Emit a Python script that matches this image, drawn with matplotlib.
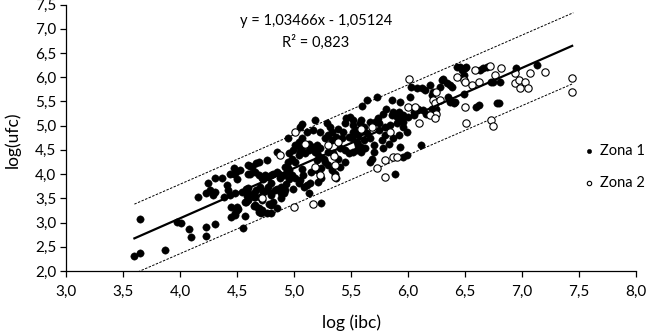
import numpy as np
import matplotlib
matplotlib.use("Agg")
import matplotlib.pyplot as plt
from matplotlib.ticker import FuncFormatter, MultipleLocator

plt.rcParams['font.family'] = ['Lato', 'DejaVu Sans']

# Zona 1 (filled points)
zona1_x = [3.60, 3.65, 3.65, 3.87, 3.97, 4.01, 4.08, 4.10, 4.23, 4.23, 4.31, 4.16, 4.23, 4.26, 4.29,
           4.31, 4.25, 4.31, 4.37, 4.41, 4.42, 4.44, 4.48, 4.39, 4.47, 4.49, 4.50, 4.47, 4.44, 4.45,
           4.48, 4.51, 4.57, 4.55, 4.58, 4.59, 4.60, 4.60, 4.61, 4.65, 4.65, 4.65, 4.68, 4.71, 4.73,
           4.75, 4.78, 4.80, 4.87, 4.89, 4.93, 4.96, 5.07, 5.09, 5.13, 5.24, 5.15, 4.50, 4.48, 4.66,
           4.69, 4.76, 4.80, 4.89, 4.45, 4.50, 4.85, 4.80, 4.69, 4.72, 4.54, 4.58, 4.60, 4.66, 4.67,
           4.70, 4.73, 4.77, 4.80, 4.85, 4.89, 4.91, 4.92, 4.60, 4.57, 4.70, 4.72, 4.80, 4.82, 4.83,
           4.61, 4.66, 4.69, 4.72, 4.75, 4.77, 4.80, 4.82, 4.85, 4.88, 4.91, 4.94, 4.95, 4.53, 4.60,
           4.63, 4.67, 4.69, 4.76, 4.85, 4.96, 4.99, 5.05, 5.07, 5.13, 5.17, 5.20, 5.23, 5.07, 5.04,
           4.95, 5.07, 5.05, 5.18, 5.11, 5.17, 5.23, 5.29, 5.32, 4.95, 5.01, 5.04, 5.01, 5.05, 4.98,
           5.10, 5.13, 5.20, 5.18, 5.23, 5.26, 5.20, 5.27, 5.30, 5.33, 5.37, 5.42, 5.48, 5.51, 5.55,
           5.56, 5.61, 5.30, 5.34, 5.40, 5.45, 5.48, 5.52, 5.55, 5.59, 5.62, 4.92, 4.96, 4.98, 5.01,
           5.05, 5.08, 5.04, 5.11, 5.14, 5.20, 5.24, 5.27, 5.30, 5.33, 5.39, 5.45, 5.40, 5.36, 5.37,
           5.24, 5.21, 4.99, 5.67, 5.89, 5.46, 5.49, 5.52, 5.39, 5.43, 5.58, 5.52, 5.55, 5.56, 5.45,
           5.33, 5.59, 5.52, 5.55, 5.64, 5.60, 5.73, 5.93, 6.02, 5.86, 5.81, 5.78, 5.86, 5.87, 6.05,
           6.09, 6.13, 6.16, 5.74, 5.71, 5.67, 5.75, 5.90, 5.93, 5.96, 5.84, 5.61, 5.59, 5.64, 5.67,
           5.75, 5.80, 5.77, 5.83, 5.87, 5.92, 5.96, 5.99, 5.70, 5.70, 5.68, 5.78, 5.93, 5.99, 5.96,
           6.11, 5.59, 6.21, 6.25, 5.92, 5.96, 6.00, 6.05, 5.80, 5.90, 6.03, 6.08, 6.12, 6.15, 6.19,
           6.22, 6.28, 6.30, 6.21, 6.37, 6.40, 6.60, 6.62, 6.78, 6.80, 6.31, 6.34, 6.37, 6.39, 6.35,
           6.37, 6.41, 6.43, 6.46, 6.47, 6.50, 6.51, 6.49, 6.63, 6.66, 6.69, 6.73, 6.75, 6.81, 6.95,
           7.13, 6.49]
zona1_y = [2.30, 2.38, 3.08, 2.43, 3.01, 3.00, 2.87, 2.71, 2.72, 2.91, 2.97, 3.53, 3.60, 3.67, 3.57,
           3.64, 3.81, 3.91, 3.91, 3.77, 3.67, 3.57, 3.60, 3.53, 4.00, 4.05, 3.90, 4.12, 4.01, 3.12,
           3.15, 3.28, 3.14, 2.88, 3.42, 3.55, 3.72, 4.00, 4.17, 3.60, 3.52, 3.35, 3.30, 3.20, 3.90,
           3.65, 3.38, 3.60, 4.00, 3.60, 3.80, 3.90, 4.10, 3.73, 3.60, 3.40, 4.05, 3.33, 3.19, 3.36,
           3.29, 3.19, 3.36, 3.50, 3.33, 3.26, 3.29, 3.19, 3.22, 3.26, 3.64, 3.70, 3.60, 3.53, 3.67,
           3.74, 3.64, 3.74, 3.81, 3.70, 3.74, 3.60, 3.67, 3.46, 3.43, 3.53, 3.46, 3.57, 3.43, 3.67,
           4.01, 4.05, 3.98, 3.91, 3.98, 3.94, 3.98, 4.01, 4.05, 3.91, 3.98, 4.05, 4.12, 4.08, 4.19,
           4.15, 4.22, 4.25, 4.30, 4.46, 4.43, 4.49, 4.46, 4.56, 4.63, 4.56, 4.43, 4.53, 4.74, 4.67,
           4.74, 5.03, 4.98, 5.11, 4.87, 4.91, 4.87, 5.05, 4.98, 4.25, 4.25, 4.39, 4.60, 4.53, 4.32,
           4.43, 4.49, 4.60, 4.46, 4.36, 4.32, 4.29, 4.74, 4.80, 4.70, 4.77, 4.74, 4.77, 4.74, 4.67,
           4.60, 4.70, 4.46, 4.43, 4.53, 4.49, 4.43, 4.46, 4.49, 4.46, 4.53, 4.15, 4.08, 3.98, 3.91,
           3.88, 3.98, 3.81, 3.77, 3.81, 4.08, 4.12, 4.25, 4.19, 4.08, 4.32, 4.25, 4.15, 4.01, 3.91,
           3.91, 3.84, 3.70, 4.25, 4.01, 5.15, 5.18, 5.11, 4.94, 4.87, 5.05, 4.87, 4.84, 4.80, 5.05,
           4.87, 5.11, 5.01, 4.91, 5.53, 5.40, 5.59, 5.49, 5.59, 5.53, 5.35, 5.25, 5.22, 5.28, 5.28,
           5.35, 5.32, 5.25, 5.15, 5.08, 5.08, 5.05, 5.18, 5.11, 5.08, 5.01, 4.98, 4.87, 4.84, 4.74,
           4.91, 4.80, 4.70, 4.63, 4.74, 4.80, 4.98, 4.87, 4.60, 4.46, 4.32, 4.53, 4.56, 4.39, 4.36,
           4.60, 4.56, 5.35, 5.35, 5.28, 5.22, 5.18, 5.22, 4.98, 5.05, 5.80, 5.77, 5.77, 5.73, 5.84,
           5.70, 5.80, 5.94, 5.63, 5.53, 5.46, 5.39, 5.42, 5.46, 5.47, 5.97, 5.87, 5.84, 5.80, 5.59,
           5.49, 5.49, 6.21, 6.21, 6.14, 6.18, 6.21, 6.04, 6.14, 6.18, 6.21, 5.90, 5.90, 5.90, 6.18,
           6.25, 5.66]

# Zona 2 (open points)
zona2_x = [4.72, 5.00, 5.17, 5.18, 5.01, 4.88, 5.10, 5.30, 5.39, 5.36, 5.23, 5.35, 5.36, 5.59, 5.73,
           5.80, 5.80, 5.87, 5.90, 5.68, 5.84, 6.01, 6.25, 6.22, 6.00, 6.06, 6.25, 6.19, 6.10, 6.24,
           6.28, 6.24, 6.43, 6.49, 6.50, 6.56, 6.59, 6.62, 6.72, 6.76, 6.82, 6.94, 6.94, 6.97, 6.98,
           7.03, 7.05, 7.07, 7.20, 6.50, 6.51, 6.73, 6.75, 7.44, 7.44]
zona2_y = [3.50, 3.33, 3.38, 4.15, 4.87, 4.39, 4.63, 4.61, 4.67, 4.19, 3.98, 4.37, 3.95, 4.94, 4.12,
           3.95, 4.29, 4.36, 4.36, 4.98, 4.87, 5.96, 5.70, 5.53, 5.39, 5.39, 5.25, 5.22, 5.05, 5.46,
           5.53, 5.15, 6.01, 5.94, 5.90, 5.84, 6.14, 5.90, 6.23, 6.04, 6.18, 6.08, 5.87, 5.95, 5.77,
           5.90, 5.77, 6.08, 6.11, 5.39, 5.05, 5.11, 4.99, 5.99, 5.70]

# trend line and band ends
slope = 1.03466
intercept = -1.05124
r2 = 0.823
band_x = [3.60, 7.45]
band_upper = [3.38, 7.33]
band_lower = [1.95, 5.87]

fig = plt.figure(figsize=(6.5, 3.34), dpi=100)
ax = fig.add_axes([66 / 650, 1 - 271 / 334, 570 / 650, 266.5 / 334])

ax.plot(band_x, band_upper, color='black', lw=0.7, ls=(0, (2.5, 1.5)), zorder=1)
ax.plot(band_x, band_lower, color='black', lw=0.7, ls=(0, (2.5, 1.5)), zorder=1)

all_x = np.array(zona1_x + zona2_x)
fx = np.array([all_x.min(), all_x.max()])
ax.plot(fx, slope * fx + intercept, color='black', lw=1.6, zorder=4)

ax.scatter(zona1_x, zona1_y, s=28, c='black', edgecolors='black', linewidths=0.3,
           label='Zona 1', zorder=2)
ax.scatter(zona2_x, zona2_y, s=28, c='white', edgecolors='black', linewidths=0.8,
           label='Zona 2', zorder=3)

ax.set_xlim(3.0, 8.0)
ax.set_ylim(2.0, 7.5)
ax.xaxis.set_major_locator(MultipleLocator(0.5))
ax.yaxis.set_major_locator(MultipleLocator(0.5))
comma = FuncFormatter(lambda v, p: f"{v:.1f}".replace('.', ','))
ax.xaxis.set_major_formatter(comma)
ax.yaxis.set_major_formatter(comma)
ax.tick_params(direction='out', length=4, width=0.9, labelsize=11, colors='black', pad=3)
ax.tick_params(axis='x', pad=6)
for s in ['top', 'right']:
    ax.spines[s].set_visible(False)
for s in ['left', 'bottom']:
    ax.spines[s].set_linewidth(0.9)

fig.text(351 / 650, 1 - 323 / 334, 'log (ibc)', ha='center', va='center', fontsize=12.5)
fig.text(12 / 650, 1 - 140 / 334, 'log(ufc)', ha='center', va='center', rotation=90, fontsize=12.5)

eq = f"y = {slope:.5f}x - {abs(intercept):.5f}".replace('.', ',')
fig.text(316 / 650, 1 - 21 / 334, eq, ha='center', va='center', fontsize=10.5)
fig.text(316 / 650, 1 - 42 / 334, f"R² = {r2:.3f}".replace('.', ','), ha='center', va='center', fontsize=10.5)

ax.legend(loc='upper left', bbox_to_anchor=(585 / 650, 1 - 144 / 334), bbox_transform=fig.transFigure,
          frameon=False, fontsize=10.5, markerscale=0.6, scatterpoints=1, handlelength=0.6,
          handletextpad=0.4, labelspacing=1.25, borderpad=0, borderaxespad=0)

fig.savefig('out.png', dpi=100)
